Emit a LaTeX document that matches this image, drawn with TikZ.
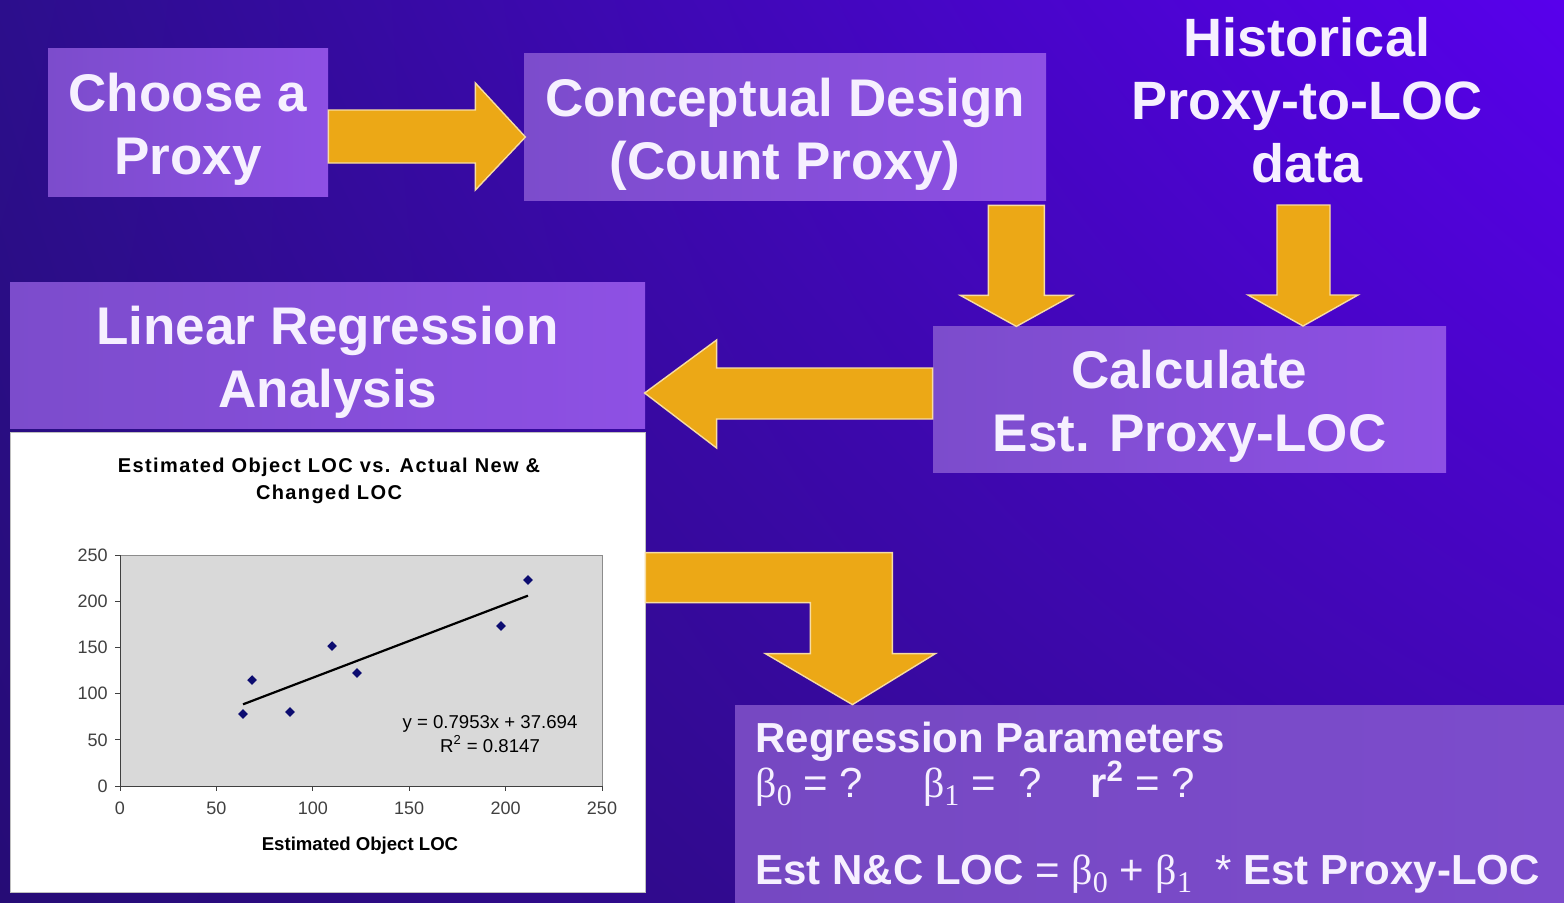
\documentclass[tikz,border=0pt]{standalone}
\usepackage{fontspec}
\setmainfont{Liberation Sans}
\newfontfamily\serifgr{Liberation Serif}
\usetikzlibrary{positioning,shapes.geometric,shadings}
\definecolor{fondoUL}{RGB}{44,14,140}
\definecolor{fondoUR}{RGB}{88,0,236}
\definecolor{fondoLL}{RGB}{38,12,118}
\definecolor{fondoLR}{RGB}{62,8,172}
\definecolor{lila}{RGB}{124,76,204}
\definecolor{lilab}{RGB}{142,80,228}
\definecolor{oro}{RGB}{236,168,22}
\definecolor{tinta}{RGB}{246,240,255}
\definecolor{marino}{RGB}{12,12,112}
\definecolor{grisc}{RGB}{217,217,217}
\newcommand{\bet}[1]{{\serifgr β}\raisebox{-0.4ex}{\serifgr\fontsize{15}{15}\selectfont #1}}
\tikzset{
  caja/.style={left color=lila, right color=lilab, align=center, text=tinta, inner sep=0pt,
    font=\fontsize{26.5}{31.5}\selectfont\bfseries, text height=58pt, text depth=5.5pt},
  blk/.style={fill=oro, draw=oro!40!white, line width=0.7pt, line join=miter},
  eje/.style={font=\fontsize{9}{10}\selectfont, text=black!75, inner sep=1pt},
  punto/.style={diamond, fill=marino, inner sep=0pt, minimum size=5pt},
  param/.style={anchor=base west, text=tinta, inner sep=0pt, font=\fontsize{21}{24}\selectfont},
}

\begin{document}
\begin{tikzpicture}[x=0.5pt, y=-0.5pt]
  \shade[upper left=fondoUL, upper right=fondoUR, lower left=fondoLL, lower right=fondoLR]
    (0,0) rectangle (1564,902);
  \useasboundingbox (0,0) rectangle (1564,902);

  % process boxes
  \node[caja, minimum width=140pt, minimum height=74pt] (choose) at (188,122) {Choose a\\Proxy};
  \node[caja, minimum width=261pt, minimum height=73.5pt] (concept) at (785,126.5) {Conceptual Design\\(Count Proxy)};
  \node[align=center, text=tinta, font=\fontsize{27}{31.5}\selectfont\bfseries] (hist) at (1307,100) {Historical\\Proxy-to-LOC\\data};
  \node[caja, minimum width=256.5pt, minimum height=73pt] (calc) at (1189.5,399) {Calculate\\Est. Proxy-LOC};
  \node[caja, minimum width=317.5pt, minimum height=73pt] (linreg) at (327.5,355) {Linear Regression\\Analysis};
  \node[draw=black!25, fill=white, minimum width=317.5pt, minimum height=230pt, inner sep=0pt] (chart) at (327.5,662) {};
  \node[left color=lila!95!black, right color=lila, minimum width=414.5pt, minimum height=98.5pt, inner sep=0pt] (params) at (1149.5,803.5) {};

  % block arrows
  \draw[blk] (choose.east) ++(0,-12) -- ++(147,0) -- ++(0,-27) -- ++(50,54) -- ++(-50,53) -- ++(0,-27) -- ++(-147,0) -- cycle;
  \draw[blk] (concept.south east) ++(-58,5) -- ++(56,0) -- ++(0,90) -- ++(28,0) -- ++(-56,31) -- ++(-56,-31) -- ++(28,0) -- cycle;
  \draw[blk] (1277,205) -- ++(53,0) -- ++(0,90) -- ++(28,0) -- ++(-55,31) -- ++(-55,-31) -- ++(29,0) -- cycle;
  \draw[blk] (calc.west) ++(0,-31) -- ++(-216,0) -- ++(0,-28) -- ++(-72,53) -- ++(72,55) -- ++(0,-29) -- ++(216,0) -- cycle;
  \draw[blk] (chart.north east) ++(0,121) -- ++(247,0) -- ++(0,101) -- ++(43,0) -- ++(-83,51) -- ++(-87,-51) -- ++(45,0) -- ++(0,-51) -- ++(-165,0) -- cycle;

  % chart
  \node[align=center, font=\fontsize{10}{13.5}\selectfont\bfseries\addfontfeature{LetterSpace=7}] (ctitle) at (329,481) {Estimated Object LOC vs. Actual New \&\\Changed LOC};
  \node[font=\fontsize{9.3}{10}\selectfont\bfseries] (xtitle) at (360,846) {Estimated Object LOC};
  \begin{scope}[shift={(120,786)}, x=0.964pt, y=0.462pt]
    \fill[grisc] (0,0) rectangle (250,250);
    \draw[black!45] (0,0) rectangle (250,250);
    \draw[black!75] (0,250) -- (0,0) -- (250,0);
    \foreach \v in {0,50,...,250} {
      \draw[black!75] (0,\v) -- ++(-2.5pt,0pt) (\v,0) -- ++(0pt,-2.5pt);
      \node[eje, anchor=east] (ty\v) at ([xshift=-5pt]0,\v) {\v};
      \node[eje, anchor=north] (tx\v) at ([yshift=-7pt]\v,0) {\v};
    }
    \draw[black, line width=1.1pt] (63.8,88.4) -- (211.6,206);
    \foreach \a/\b [count=\i] in {63.8/77.9, 68.5/114.7, 88.2/80.1, 110/151.5, 122.9/122.3, 197.6/173.2, 211.6/222.9}
      \node[punto] (p\i) at (\a,\b) {};
    \node[eje, text=black, align=center, font=\fontsize{9.3}{12}\selectfont] (eq) at (191.9,56.5) {y = 0.7953x + 37.694\\R\textsuperscript{2} = 0.8147};
  \end{scope}

  % regression parameters
  \node[param, font=\fontsize{21}{24}\selectfont\bfseries] (rp) at (755,752) {Regression Parameters};
  \node[param] (betas) at (755,797) {\bet{0} = ?\hspace{30pt}\bet{1} = \ ?\hspace{24pt}\textbf{r\textsuperscript{2}} = ?};
  \node[param] (formula) at (755,884) {\textbf{Est N\&C LOC} = \bet{0} + \bet{1} \ * \textbf{Est Proxy-LOC}};
\end{tikzpicture}
\end{document}
